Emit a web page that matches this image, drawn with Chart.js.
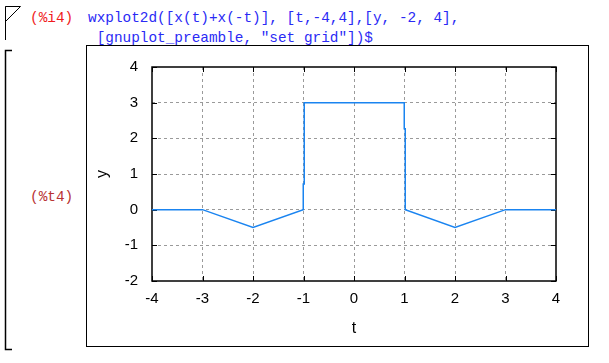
<!DOCTYPE html>
<html>
<head>
<meta charset="utf-8">
<script src="https://cdn.jsdelivr.net/npm/chart.js@4"></script>
<style>
  body { margin: 0; background: #fff; width: 609px; height: 363px; overflow: hidden; position: relative; }
  .code { position: absolute; font-family: "Liberation Mono", monospace; font-size: 14.4px; line-height: 20px; white-space: pre; margin: 0; }
  #outbox { position: absolute; left: 86px; top: 45px; width: 501px; height: 300px; border: 1px solid #000; }
  #chartWrap { position: absolute; left: 0; top: 0; width: 609px; height: 363px; }
</style>
</head>
<body>
<svg width="609" height="363" style="position:absolute;left:0;top:0">
  <!-- cell brackets -->
  <path d="M5.5 6.5 H20.5 L5.5 21.5 Z M5.5 6.5 V40" fill="none" stroke="#000" stroke-width="1"/>
  <path d="M12 50.5 H5.5 V349.5 H12" fill="none" stroke="#000" stroke-width="1.5"/>
</svg>
<div class="code" style="left:30px;top:8px;color:#f01c1c">(%i4)</div>
<div class="code" style="left:88px;top:8px;color:#2a2af5">wxplot2d([x(t)+x(-t)], [t,-4,4],[y, -2, 4],
 [gnuplot_preamble, "set grid"])$</div>
<div class="code" style="left:30px;top:187px;color:#b83232">(%t4)</div>
<div id="outbox"></div>
<div id="chartWrap"><canvas id="myChart" width="609" height="363"></canvas></div>
<script>
  // sampled curve of x(t)+x(-t)
  const tValues = [-4, -3, -2, -1.005, -1.005, -0.985, -0.985, 0.995, 0.995, 1.015, 1.015, 2, 3, 4];
  const yValues = [0, 0, -0.5, 0, 0.72, 0.72, 3, 3, 2.27, 2.27, 0, -0.5, 0, 0];

  const xTicks = [-4, -3, -2, -1, 0, 1, 2, 3, 4];
  const yTicks = [-2, -1, 0, 1, 2, 3, 4];

  const points = tValues.map((t, i) => ({ x: t, y: yValues[i] }));

  const tickFont = { family: 'Liberation Sans, Arial, sans-serif', size: 15 };

  // gnuplot style frame with inward tick marks
  const framePlugin = {
    id: 'frame',
    beforeDatasetsDraw(chart) {
      const { ctx, chartArea: a, scales } = chart;
      ctx.save();
      ctx.strokeStyle = '#000';
      ctx.lineWidth = 1;
      ctx.beginPath();
      xTicks.forEach((v) => {
        const px = Math.round(scales.x.getPixelForValue(v)) + 0.5;
        ctx.moveTo(px, a.bottom); ctx.lineTo(px, a.bottom - 5);
        ctx.moveTo(px, a.top); ctx.lineTo(px, a.top + 5);
      });
      yTicks.forEach((v) => {
        const py = Math.round(scales.y.getPixelForValue(v)) + 0.5;
        ctx.moveTo(a.left, py); ctx.lineTo(a.left + 5, py);
        ctx.moveTo(a.right, py); ctx.lineTo(a.right - 5, py);
      });
      ctx.stroke();
      ctx.lineWidth = 1.5;
      ctx.strokeRect(a.left, a.top, a.right - a.left, a.bottom - a.top);
      ctx.restore();
    },
  };

  const hideEdges = (lo, hi) => (c) =>
    c.tick && (c.tick.value === lo || c.tick.value === hi) ? 'rgba(0,0,0,0)' : '#9a9a9a';

  new Chart(document.getElementById('myChart'), {
    type: 'line',
    data: {
      datasets: [
        {
          data: points,
          borderColor: '#1a84f0',
          borderWidth: 1.5,
          pointRadius: 0,
          tension: 0,
          fill: false,
        },
      ],
    },
    options: {
      responsive: false,
      animation: false,
      events: [],
      layout: { padding: { left: 86, right: 53, top: 67, bottom: 17 } },
      plugins: { legend: { display: false }, tooltip: { enabled: false } },
      scales: {
        x: {
          type: 'linear',
          min: -4,
          max: 4,
          afterFit: (s) => { s.height = 65; },
          afterBuildTicks: (s) => { s.ticks = xTicks.map((v) => ({ value: v })); },
          ticks: { color: '#000', font: tickFont, padding: 9, maxRotation: 0 },
          grid: { color: hideEdges(-4, 4), lineWidth: 1, drawTicks: false },
          border: { display: false, dash: [3, 3] },
          title: { display: true, text: 't', color: '#000', font: { family: 'Liberation Sans, Arial, sans-serif', size: 16 }, padding: { top: 0, bottom: 8 } },
        },
        y: {
          type: 'linear',
          min: -2,
          max: 4,
          afterFit: (s) => { s.width = 66; },
          afterBuildTicks: (s) => { s.ticks = yTicks.map((v) => ({ value: v })); },
          ticks: { color: '#000', font: tickFont, padding: 14 },
          grid: { color: hideEdges(-2, 4), lineWidth: 1, drawTicks: false },
          border: { display: false, dash: [3, 3] },
          title: { display: true, text: 'y', color: '#000', font: { family: 'Liberation Sans, Arial, sans-serif', size: 16 }, padding: { top: 7, bottom: 0 } },
        },
      },
    },
    plugins: [framePlugin],
  });
</script>
</body>
</html>
